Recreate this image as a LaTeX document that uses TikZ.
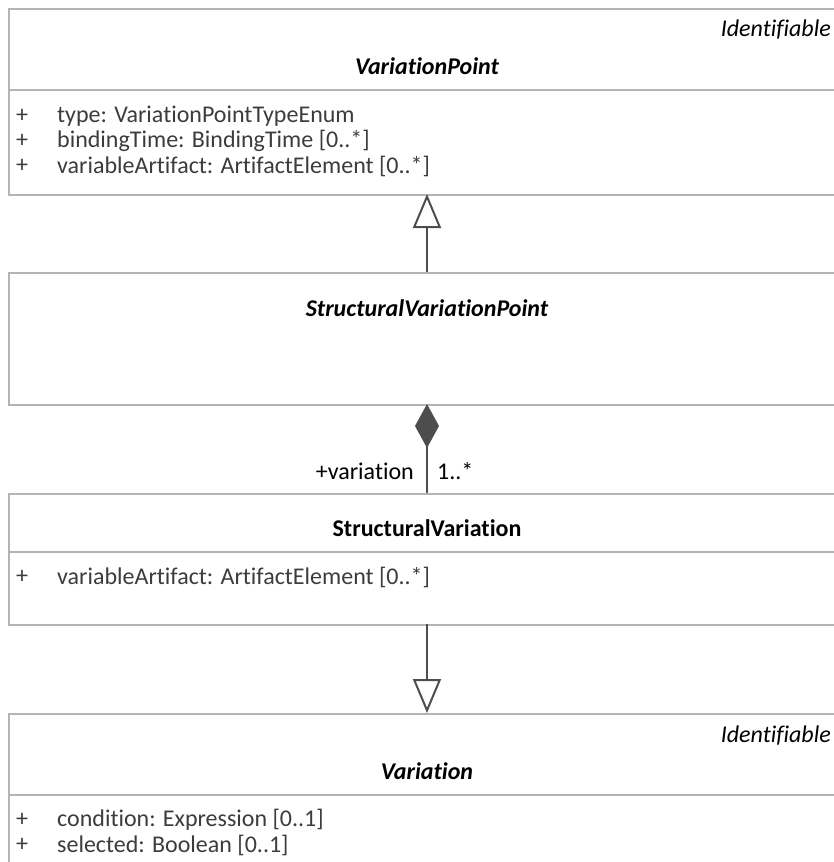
\documentclass[tikz,border=0pt]{standalone}
\usepackage{fontspec}
\setmainfont{Carlito}[Ligatures={NoCommon,NoContextual}]
\usetikzlibrary{arrows.meta}
\definecolor{boxline}{HTML}{B4B4B4}
\definecolor{conn}{HTML}{4D4D4D}
\definecolor{attr}{HTML}{3C3C3C}
\begin{document}
\begin{tikzpicture}[x=1pt,y=-1pt,
  every node/.style={inner sep=0pt},
  classbox/.style={draw=boxline,line width=1.6pt,rectangle,inner sep=0pt,anchor=north west,minimum width=838pt},
  sep/.style={draw=boxline,line width=1.6pt},
  title/.style={font=\fontsize{24}{28}\selectfont\bfseries\itshape,anchor=center},
  ctitle/.style={font=\fontsize{24}{28}\selectfont\bfseries,anchor=center},
  stereo/.style={font=\fontsize{24}{28}\selectfont\itshape,anchor=east},
  attrtext/.style={font=\fontsize{24}{28}\selectfont,text=attr,anchor=west},
  plus/.style={font=\fontsize{24}{28}\selectfont,text=attr,anchor=center},
  role/.style={font=\fontsize{24}{28}\selectfont,text=black},
  conn/.style={draw=conn,line width=2pt},
  gen/.style={conn,-{Triangle[open,length=34pt,width=28pt]}},
  comp/.style={conn,{Diamond[length=44pt,width=24pt,fill=conn]}-}
]
\useasboundingbox (0,0) rectangle (834,862);
\clip (0,0) rectangle (834,862);

% VariationPoint
\node[classbox,minimum height=186pt] (vp) at (8,8) {};
\draw[sep] (8,90) -- (846,90);
\node[stereo] (vpst) at (831,30) {Identifiable};
\node[title] (vpt) at (427,66) {VariationPoint};
\node[plus] (vpp1) at (22,116) {+};
\node[attrtext] (vpa1) at (57,116) {type: VariationPointTypeEnum};
\node[plus] (vpp2) at (22,141) {+};
\node[attrtext] (vpa2) at (57,141) {bindingTime: BindingTime [0..*]};
\node[plus] (vpp3) at (22,166) {+};
\node[attrtext] (vpa3) at (57,166) {variableArtifact: ArtifactElement [0..*]};

% StructuralVariationPoint
\node[classbox,minimum height=132pt] (svp) at (8,272) {};
\node[title] (svpt) at (427,308) {StructuralVariationPoint};

% StructuralVariation
\node[classbox,minimum height=131pt] (sv) at (8,493) {};
\draw[sep] (8,552) -- (846,552);
\node[ctitle] (svt) at (427,528) {StructuralVariation};
\node[plus] (svp1) at (22,577) {+};
\node[attrtext] (sva1) at (57,577) {variableArtifact: ArtifactElement [0..*]};

% Variation
\node[classbox,minimum height=200pt] (var) at (8,713) {};
\draw[sep] (8,795) -- (846,795);
\node[stereo] (varst) at (831,736) {Identifiable};
\node[title] (vart) at (427,771) {Variation};
\node[plus] (varp1) at (22,820) {+};
\node[attrtext] (vara1) at (57,820) {condition: Expression [0..1]};
\node[plus] (varp2) at (22,845) {+};
\node[attrtext] (vara2) at (57,845) {selected: Boolean [0..1]};

% connectors
\coordinate (c1) at (427,272);
\coordinate (c1t) at (427,194);
\draw[gen] (c1) -- (c1t);
\coordinate (c2s) at (427,404);
\coordinate (c2e) at (427,493);
\draw[comp] (c2s) -- (c2e);
\node[role,anchor=east] (rname) at (414,471) {+variation};
\node[role,anchor=west] (rmult) at (437,471) {1..*};
\coordinate (c3s) at (427,624);
\coordinate (c3e) at (427,713);
\draw[gen] (c3s) -- (c3e);
\end{tikzpicture}
\end{document}
